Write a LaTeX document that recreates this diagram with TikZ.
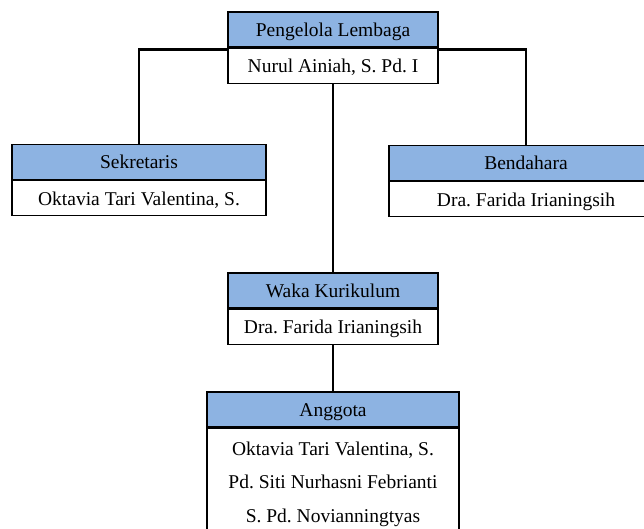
\documentclass[tikz,border=0pt]{standalone}
\usepackage{fontspec}
\setmainfont{Liberation Serif}
\usetikzlibrary{positioning}
\definecolor{headblue}{HTML}{8DB3E2}
\frenchspacing
\tikzset{
	box/.style={draw, line width=1.3pt, minimum height=35pt, inner sep=0pt, text height=17pt, text depth=3pt, font=\fontsize{19.5}{22}\selectfont},
	head/.style={box, fill=headblue},
	body/.style={box, fill=white},
	link/.style={line width=2.5pt},
}
\begin{document}
\begin{tikzpicture}[x=1pt,y=-1pt]
	\clip (0,0) rectangle (644,529);
	\fill[white] (0,0) rectangle (644,529);
	% pengelola
	\node[head, minimum width=210pt] (toph) at (333,29.5) {Pengelola Lembaga};
	\node[body, minimum width=210pt, below=0pt of toph] (topb) {Nurul Ainiah, S. Pd. I};
	% sekretaris dan bendahara
	\node[head, minimum width=254pt] (sekh) at (139,162) {Sekretaris};
	\node[body, minimum width=254pt, below=0pt of sekh] (sekb) {Oktavia Tari Valentina, S.};
	\node[head, minimum width=274pt] (benh) at (526,163) {Bendahara};
	\node[body, minimum width=274pt, below=0pt of benh] (benb) {Dra. Farida Irianingsih};
	% waka
	\node[head, minimum width=210pt] (wakh) at (333,290.5) {Waka Kurikulum};
	\node[body, minimum width=210pt, below=0pt of wakh] (wakb) {Dra. Farida Irianingsih};
	% anggota
	\node[head, minimum width=252pt] (angh) at (333,409.5) {Anggota};
	\node[body, minimum width=252pt, minimum height=112pt, text height=, text depth=, align=center, below=0pt of angh, font=\fontsize{19.5}{33.5}\selectfont] (angb)
		{Oktavia Tari Valentina, S.\\Pd. Siti Nurhasni Febrianti\\S. Pd. Novianningtyas};
	% garis
	\draw[link] ([yshift=-2pt]toph.south west) -| (sekh.north);
	\draw[link] ([yshift=-2pt]toph.south east) -| (benh.north);
	\draw[link] (topb.south) -- (wakh.north);
	\draw[link] (wakb.south) -- (angh.north);
\end{tikzpicture}
\end{document}
